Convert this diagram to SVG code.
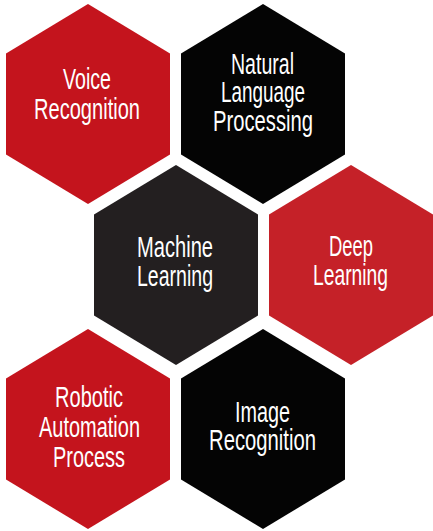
<svg xmlns="http://www.w3.org/2000/svg" xmlns:xlink="http://www.w3.org/1999/xlink" width="433" height="531" viewBox="0 0 433 531">
<defs>
<polygon id="hex" points="0,-100 82,-50.5 82,50.5 0,100 -82,50.5 -82,-50.5"/>
</defs>
<style>
.t{fill:#ffffff;font-family:"Liberation Sans","DejaVu Sans",sans-serif;font-size:29px;text-anchor:middle}
.red{fill:#c4141d}
.red2{fill:#c52128}
.blk{fill:#040404}
.gry{fill:#231f20}
</style>
<rect width="433" height="531" fill="#ffffff"/>
<g id="voice-recognition">
<use href="#hex" xlink:href="#hex" x="88" y="104" class="red"/>
<text class="t" x="87" y="89" textLength="48" lengthAdjust="spacingAndGlyphs">Voice</text>
<text class="t" x="87" y="119" textLength="106" lengthAdjust="spacingAndGlyphs">Recognition</text>
</g>
<g id="natural-language-processing">
<use href="#hex" xlink:href="#hex" x="263" y="104" class="blk"/>
<text class="t" x="262.5" y="74" textLength="63" lengthAdjust="spacingAndGlyphs">Natural</text>
<text class="t" x="263" y="102" textLength="84" lengthAdjust="spacingAndGlyphs">Language</text>
<text class="t" x="263" y="131" textLength="100" lengthAdjust="spacingAndGlyphs">Processing</text>
</g>
<g id="machine-learning">
<use href="#hex" xlink:href="#hex" x="176" y="265" class="gry"/>
<text class="t" x="175" y="257" textLength="76" lengthAdjust="spacingAndGlyphs">Machine</text>
<text class="t" x="175" y="286" textLength="76" lengthAdjust="spacingAndGlyphs">Learning</text>
</g>
<g id="deep-learning">
<use href="#hex" xlink:href="#hex" x="351" y="265" class="red2"/>
<text class="t" x="351" y="256" textLength="44" lengthAdjust="spacingAndGlyphs">Deep</text>
<text class="t" x="350.5" y="285" textLength="75" lengthAdjust="spacingAndGlyphs">Learning</text>
</g>
<g id="robotic-automation-process">
<use href="#hex" xlink:href="#hex" x="88" y="429" class="red"/>
<text class="t" x="89" y="407" textLength="68" lengthAdjust="spacingAndGlyphs">Robotic</text>
<text class="t" x="89.5" y="437" textLength="101" lengthAdjust="spacingAndGlyphs">Automation</text>
<text class="t" x="89" y="467" textLength="72" lengthAdjust="spacingAndGlyphs">Process</text>
</g>
<g id="image-recognition">
<use href="#hex" xlink:href="#hex" x="263" y="429" class="blk"/>
<text class="t" x="262.5" y="422" textLength="55" lengthAdjust="spacingAndGlyphs">Image</text>
<text class="t" x="262.5" y="450" textLength="107" lengthAdjust="spacingAndGlyphs">Recognition</text>
</g>
</svg>
